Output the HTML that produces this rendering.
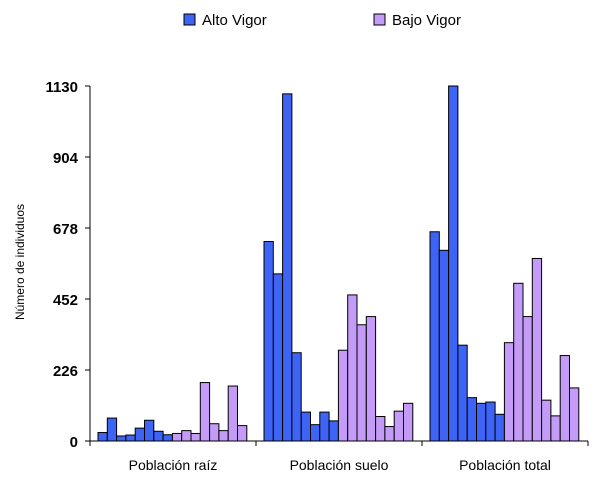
<!DOCTYPE html>
<html><head><meta charset="utf-8"><style>
body{margin:0;background:#fff;width:614px;height:483px;overflow:hidden}
text{font-family:"Liberation Sans",Arial,sans-serif}
</style></head><body>
<svg id="c" width="614" height="483">
<g>
<rect x="184" y="14" width="11" height="11" fill="#3d64f5" stroke="#000" stroke-width="1"/>
<text x="202" y="25" font-size="15">Alto Vigor</text>
<rect x="374" y="14" width="11" height="11" fill="#c49cf7" stroke="#000" stroke-width="1"/>
<text x="392" y="25" font-size="15">Bajo Vigor</text>
</g>
<text transform="translate(24,262) rotate(-90)" text-anchor="middle" font-size="12">Número de individuos</text>
<g id="bars"></g>
<g id="axes"></g>
</svg>
<script>
const categories=["Población raíz","Población suelo","Población total"];
const altoVigor=[[27,73,16,19,41,66,31,20],[635,532,1105,281,92,52,92,64],[666,607,1130,305,138,120,124,85]];
const bajoVigor=[[24,33,24,186,55,33,175,49],[289,465,370,396,78,46,95,120],[313,502,396,581,130,80,272,169]];
const yTicks=[0,226,452,678,904,1130];
const NS="http://www.w3.org/2000/svg";
const x0=90,x1=588,y0=441,yTop=86,yMax=1130;
const gw=(x1-x0)/categories.length, bw=9.3, pad=8;
function y(v){return y0-(v/yMax)*(y0-yTop);}
function bx(g,i){return x0+g*gw+pad+i*bw;}
function mk(tag,attrs,parent){const e=document.createElementNS(NS,tag);for(const k in attrs)e.setAttribute(k,attrs[k]);parent.appendChild(e);return e;}
const bars=document.getElementById('bars'),axes=document.getElementById('axes');
categories.forEach((c,g)=>{
  altoVigor[g].forEach((v,i)=>{
    const r=mk('rect',{x:bx(g,i),y:y(v),width:bw,height:y0-y(v),fill:'#3d64f5',stroke:'#000','stroke-width':1},bars);
    
    
  });
  bajoVigor[g].forEach((v,i)=>{
    const r=mk('rect',{x:bx(g,i+8),y:y(v),width:bw,height:y0-y(v),fill:'#c49cf7',stroke:'#000','stroke-width':1},bars);
    
    
  });
  const t=mk('text',{x:x0+g*gw+gw/2,y:470,'text-anchor':'middle','font-size':14},axes);
  t.textContent=c;
  
  
  const tk=mk('line',{x1:x0+(g+1)*gw,x2:x0+(g+1)*gw,y1:y0,y2:y0+5,stroke:'#000'},axes);
  
  
});
const ya=mk('line',{x1:x0,x2:x0,y1:yTop,y2:y0+5,stroke:'#000'},axes);


const xa=mk('line',{x1:x0,x2:x1,y1:y0,y2:y0,stroke:'#000'},axes);


yTicks.forEach(v=>{
  const l=mk('line',{x1:x0-5,x2:x0,y1:y(v),y2:y(v),stroke:'#000'},axes);
  
  
  const t=mk('text',{x:x0-12,y:y(v)+6,'text-anchor':'end','font-size':15,'font-weight':'bold'},axes);
  t.textContent=v;
  
  
});
</script>
</body></html>
